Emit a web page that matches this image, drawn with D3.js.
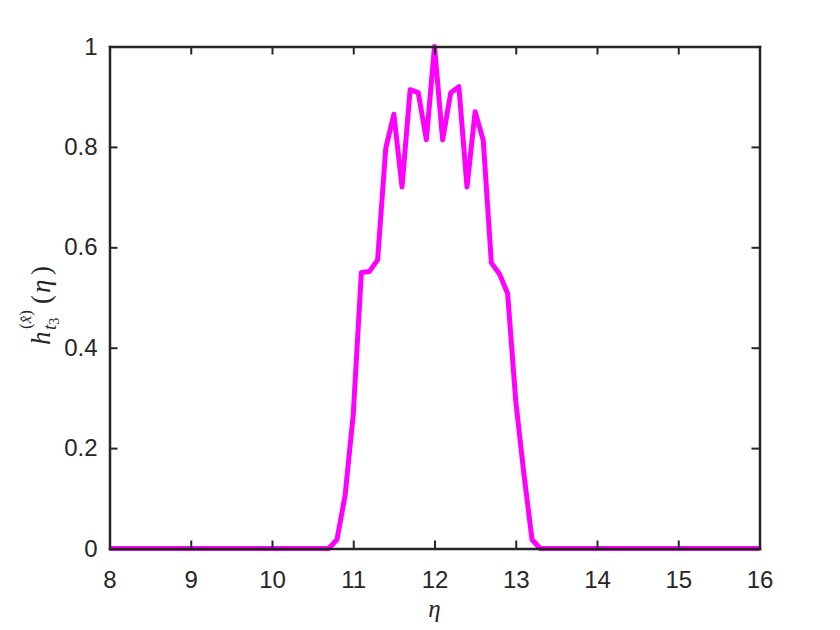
<!doctype html>
<html>
<head>
	<script src="https://d3js.org/d3.v7.min.js"></script>
	<style>
		body { margin: 0; background: #fff; }
		.tick text { font-family: "Liberation Sans", Arial, sans-serif; font-size: 24px; fill: #262626; }
		.tick line { stroke: #262626; stroke-width: 2; }
		.domain { stroke: #262626; stroke-width: 2.5; }
		.lbl { font-family: "Liberation Serif", "Times New Roman", serif; fill: #262626; }
	</style>
</head>
<body>
	<svg id="chart" width="840" height="630"></svg>
	<script>

		// eta values (x) and h values (y)
		var etaVals = [8, 10.7, 10.8, 10.9, 11.0, 11.1, 11.2, 11.3, 11.4, 11.5, 11.6, 11.7, 11.8, 11.9,
		               12.0, 12.1, 12.2, 12.3, 12.4, 12.5, 12.6, 12.7, 12.8, 12.9, 13.0, 13.1, 13.2, 13.3, 16];
		var hVals = [0, 0, 0.018, 0.106, 0.267, 0.550, 0.552, 0.575, 0.797, 0.865, 0.720, 0.914, 0.908, 0.814,
		             1.0, 0.814, 0.908, 0.920, 0.720, 0.870, 0.813, 0.569, 0.547, 0.508, 0.294, 0.149, 0.018, 0, 0];

		var xTicks = [8, 9, 10, 11, 12, 13, 14, 15, 16];
		var yTicks = [0, 0.2, 0.4, 0.6, 0.8, 1];
		var yTickLabels = ["0", "0.2", "0.4", "0.6", "0.8", "1"];

		var data = etaVals.map((e, i) => ({eta: e, h: hVals[i]}));

		var margin = {top: 46.5, right: 80.5, bottom: 81.5, left: 109.5};
		var width = 840, height = 630;

		var svg = d3.select("#chart");

		var xScale = d3.scaleLinear()
		               .domain([8, 16])
		               .range([margin.left, width - margin.right]);

		var yScale = d3.scaleLinear()
		               .domain([0, 1])
		               .range([height - margin.bottom, margin.top]);

		// data line first, axes drawn over it like matlab
		var line = d3.line()
		             .x(d => xScale(d.eta))
		             .y(d => yScale(d.h));

		svg.append("path")
		   .datum(data)
		   .attr("d", line)
		   .attr("fill", "none")
		   .attr("stroke", "#ff00ff")
		   .attr("stroke-width", 5)
		   .attr("stroke-linejoin", "round");

		// axes, ticks pointing inward on all four sides
		var xAxis = d3.axisBottom(xScale).tickValues(xTicks).tickSizeInner(-8).tickSizeOuter(0).tickPadding(22);
		var yAxis = d3.axisLeft(yScale).tickValues(yTicks).tickSizeInner(-8).tickSizeOuter(0).tickPadding(12)
		              .tickFormat((d, i) => yTickLabels[i]);
		var xTop = d3.axisTop(xScale).tickValues(xTicks).tickSizeInner(-8).tickSizeOuter(0).tickFormat("");
		var yRight = d3.axisRight(yScale).tickValues(yTicks).tickSizeInner(-8).tickSizeOuter(0).tickFormat("");

		svg.append("g")
		   .attr("id", "xAxisG")
		   .attr("transform", "translate(0," + (height - margin.bottom) + ")")
		   .call(xAxis);

		svg.append("g")
		   .attr("id", "yAxisG")
		   .attr("transform", "translate(" + margin.left + ",0)")
		   .call(yAxis);

		svg.append("g")
		   .attr("transform", "translate(0," + margin.top + ")")
		   .call(xTop);

		svg.append("g")
		   .attr("transform", "translate(" + (width - margin.right) + ",0)")
		   .call(yRight);

		svg.selectAll(".domain").attr("stroke-linecap", "square");

		// x label
		svg.append("text")
		   .attr("class", "lbl")
		   .attr("x", xScale(12))
		   .attr("y", 617)
		   .attr("text-anchor", "middle")
		   .style("font-size", "25px")
		   .style("font-style", "italic")
		   .text("\u03b7");

		// y label  h_{t_3}^{(x^)}(eta), rotated
		var yl = svg.append("g")
		            .attr("class", "lbl")
		            .attr("transform", "translate(50,345) rotate(-90)");

		yl.append("text").attr("x", 0).attr("y", 0)
		  .style("font-size", "27px").style("font-style", "italic").text("h");
		var sub = yl.append("text").attr("x", 15).attr("y", 6).style("font-size", "19px");
		sub.append("tspan").style("font-style", "italic").text("t");
		sub.append("tspan").attr("dy", 3).style("font-size", "14px").text("3");
		var sup = yl.append("text").attr("x", 16).attr("y", -19).style("font-size", "17px");
		sup.append("tspan").text("(");
		sup.append("tspan").style("font-style", "italic").text("x\u0302");
		sup.append("tspan").text(")");
		yl.append("text").attr("x", 41).attr("y", 0).style("font-size", "27px").text("(");
		yl.append("text").attr("x", 52).attr("y", 0).style("font-size", "27px").style("font-style", "italic").text("\u03b7");
		yl.append("text").attr("x", 70).attr("y", 0).style("font-size", "27px").text(")");

	</script>
</body>
</html>
